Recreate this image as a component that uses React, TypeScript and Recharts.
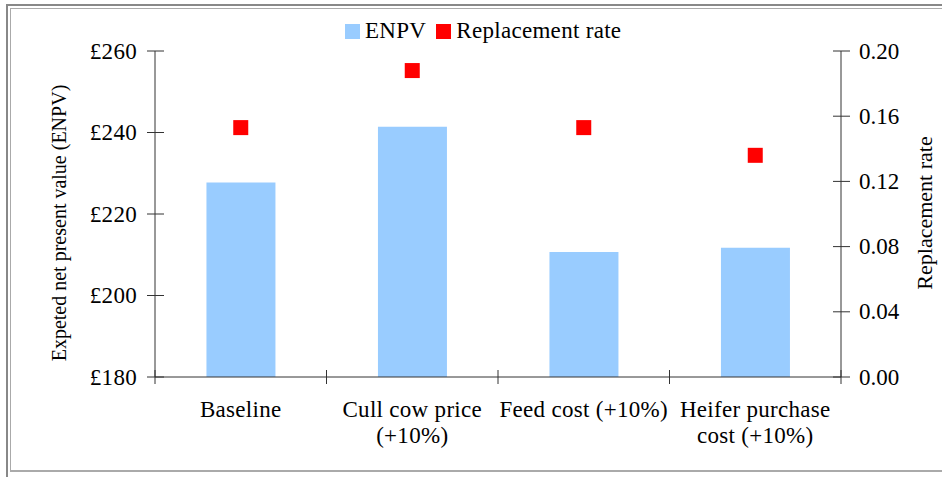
import { Bar, ComposedChart, Legend, Scatter, XAxis, YAxis } from 'recharts';

const categories = ['Baseline', 'Cull cow price\n(+10%)', 'Feed cost (+10%)', 'Heifer purchase\ncost (+10%)'];
const enpv = [227.7, 241.4, 210.7, 211.7];
const replacementRate = [0.153, 0.188, 0.153, 0.136];
const enpvTicks = [180, 200, 220, 240, 260];
const rateTicks = [0, 0.04, 0.08, 0.12, 0.16, 0.2];

const data = categories.map((name, i) => ({ name, enpv: enpv[i], rate: replacementRate[i] }));

const FONT = '"Liberation Serif", "Times New Roman", serif';
const AXIS = '#333';
const BLUE = '#99CCFF';
const RED = '#FF0000';

function CategoryTick(props: any) {
  const { x, y, payload, index, width, visibleTicksCount } = props;
  const half = payload.offset || (width && visibleTicksCount ? width / visibleTicksCount / 2 : 85.7);
  const lines = String(payload.value).split('\n');
  return (
    <g>
      {index === 0 && <line x1={x - half} x2={x - half} y1={y - 7} y2={y + 7} stroke={AXIS} />}
      <line x1={x + half} x2={x + half} y1={y - 7} y2={y + 7} stroke={AXIS} />
      <text x={x} y={y + 40} textAnchor="middle" fontSize={23} fill="#000" style={{ letterSpacing: 0.3 }}>
        {lines.map((l, i) => (
          <tspan key={i} x={x} dy={i === 0 ? 0 : 25.5}>
            {l}
          </tspan>
        ))}
      </text>
    </g>
  );
}

function LeftTick({ x, y, payload }: any) {
  return (
    <g>
      <line x1={x - 8} x2={x + 9} y1={y} y2={y} stroke={AXIS} />
      <text x={x - 18} y={y} textAnchor="end" dominantBaseline="central" fontSize={23} fill="#000" style={{ letterSpacing: 0.3 }}>
        £{payload.value}
      </text>
    </g>
  );
}

function RightTick({ x, y, payload }: any) {
  return (
    <g>
      <line x1={x - 8} x2={x + 9} y1={y} y2={y} stroke={AXIS} />
      <text x={x + 18} y={y} textAnchor="start" dominantBaseline="central" fontSize={23} fill="#000">
        {Number(payload.value).toFixed(2)}
      </text>
    </g>
  );
}

function RedSquare({ cx, cy }: any) {
  return <rect x={cx - 7.5} y={cy - 7.5} width={15} height={15} fill={RED} />;
}

const leftTitle = ({ viewBox }: any) => {
  const cx = viewBox.x + 59;
  const cy = viewBox.y + viewBox.height / 2 + 9;
  return (
    <text x={cx} y={cy} transform={`rotate(-90, ${cx}, ${cy})`} textAnchor="middle" dominantBaseline="central" fontSize={20} fill="#000">
      Expeted net present value (ENPV)
    </text>
  );
};

const rightTitle = ({ viewBox }: any) => {
  const cx = viewBox.x + 83;
  const cy = viewBox.y + viewBox.height / 2 - 1;
  return (
    <text x={cx} y={cy} transform={`rotate(-90, ${cx}, ${cy})`} textAnchor="middle" dominantBaseline="central" fontSize={22} fill="#000">
      Replacement rate
    </text>
  );
};

function LegendContent({ payload }: any) {
  return (
    <div style={{ display: 'flex', alignItems: 'center', fontFamily: FONT, fontSize: 23, letterSpacing: 0.3, color: '#000' }}>
      {(payload || []).map((p: any, i: number) => (
        <div key={p.value} style={{ display: 'flex', alignItems: 'center', marginLeft: i === 0 ? 0 : 10 }}>
          <span style={{ width: 15, height: 15, background: p.color, marginRight: 5, display: 'inline-block' }} />
          <span style={{ lineHeight: '20px' }}>{p.value}</span>
        </div>
      ))}
    </div>
  );
}

export default function App() {
  return (
    <div
      style={{
        position: 'absolute',
        left: 0,
        top: 0,
        width: 942,
        height: 477,
        overflow: 'hidden',
        background: '#fff',
        fontFamily: FONT,
      }}
    >
      <div style={{ position: 'absolute', left: 6, top: 4, width: 1000, height: 1000, border: '2px solid #888' }} />
      <div
        style={{
          position: 'absolute',
          left: 10,
          top: 8,
          width: 1000,
          height: 461,
          borderLeft: '1px solid #aaa',
          borderTop: '1px solid #aaa',
          borderBottom: '2px solid #aaa',
        }}
      />
      <div style={{ position: 'absolute', left: 0, top: 0 }}>
        <ComposedChart width={942} height={477} data={data} margin={{ top: 51, right: 0, bottom: 0, left: 0 }} barCategoryGap="30%">
          <XAxis
            dataKey="name"
            interval={0}
            height={100}
            tickSize={0}
            tickMargin={0}
            tickLine={false}
            axisLine={{ stroke: AXIS }}
            tick={<CategoryTick />}
          />
          <YAxis
            yAxisId="left"
            orientation="left"
            width={155}
            domain={[180, 260]}
            ticks={enpvTicks}
            tickSize={0}
            tickMargin={0}
            tickLine={false}
            axisLine={{ stroke: AXIS }}
            tick={<LeftTick />}
            label={{ value: 'Expeted net present value (ENPV)', content: leftTitle }}
          />
          <YAxis
            yAxisId="right"
            orientation="right"
            width={101}
            domain={[0, 0.2]}
            ticks={rateTicks}
            tickSize={0}
            tickMargin={0}
            tickLine={false}
            axisLine={{ stroke: AXIS }}
            tick={<RightTick />}
            label={{ value: 'Replacement rate', content: rightTitle }}
          />
          <Legend
            verticalAlign="middle"
            align="center"
            layout="horizontal"
            wrapperStyle={{ top: 21, left: 345, width: 'auto' }}
            content={<LegendContent />}
          />
          <Bar yAxisId="left" dataKey="enpv" name="ENPV" fill={BLUE} isAnimationActive={false} />
          <Scatter
            yAxisId="right"
            dataKey="rate"
            name="Replacement rate"
            fill={RED}
            shape={<RedSquare />}
            isAnimationActive={false}
          />
        </ComposedChart>
      </div>
    </div>
  );
}
